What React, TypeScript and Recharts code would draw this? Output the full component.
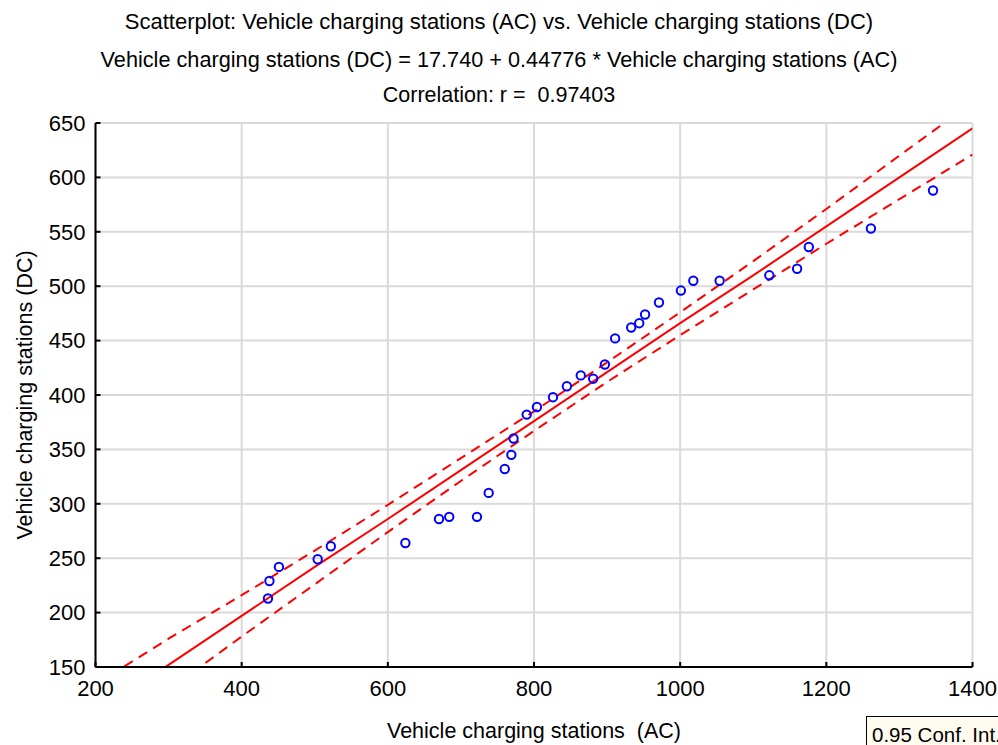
import React from 'react';
import { ComposedChart, Scatter, Line, XAxis, YAxis, CartesianGrid } from 'recharts';

const acStations = [436, 438, 451, 504, 522, 624, 670, 684, 722, 738, 760, 769, 772, 790, 804, 826, 845, 864, 881, 897, 911, 933, 944, 952, 971, 1001, 1018, 1054, 1122, 1160, 1176, 1261, 1346];
const dcStations = [213, 229, 242, 249, 261, 264, 286, 288, 288, 310, 332, 345, 360, 382, 389, 398, 408, 418, 415, 428, 452, 462, 466, 474, 485, 496, 505, 505, 510, 516, 536, 553, 588];

// Fitted line and 0.95 confidence band
const bandAC = [200, 300, 400, 500, 600, 700, 800, 900, 1000, 1100, 1200, 1300, 1400];
const fitDC = [107, 152, 197, 242, 286, 331, 376, 421, 466, 510, 555, 600, 645];
const upperDC = [134, 176, 216, 257, 299, 342, 385, 430, 476, 523, 571, 620, 669];
const lowerDC = [80, 129, 178, 226, 274, 321, 367, 412, 455, 497, 539, 580, 621];

const xTicks = [200, 400, 600, 800, 1000, 1200, 1400];
const yTicks = [150, 200, 250, 300, 350, 400, 450, 500, 550, 600, 650];

const titleLines = [
  'Scatterplot: Vehicle charging stations (AC) vs. Vehicle charging stations (DC)',
  'Vehicle charging stations (DC) = 17.740 + 0.44776 * Vehicle charging stations (AC)',
  'Correlation: r =  0.97403',
];
const xLabel = 'Vehicle charging stations  (AC)';
const yLabel = 'Vehicle charging stations (DC)';
const legendText = '0.95 Conf. Int.';

const points = acStations.map((x, i) => ({ x, y: dcStations[i] }));
const fitData = bandAC.map((x, i) => ({ x, y: fitDC[i] }));
const upperData = bandAC.map((x, i) => ({ x, y: upperDC[i] }));
const lowerData = bandAC.map((x, i) => ({ x, y: lowerDC[i] }));

const FONT = '"Liberation Sans", Arial, sans-serif';
const tickStyle = { fontFamily: FONT, fontSize: 22, fill: '#000' };

const renderCircle = (props: any) => (
  <circle cx={props.cx} cy={props.cy} r={4.2} fill="none" stroke="#0000ff" strokeWidth={2} />
);

export default function App() {
  return (
    <div style={{ position: 'absolute', left: 0, top: 0, width: 998, height: 745, overflow: 'hidden', background: '#fff', fontFamily: FONT }}>
      {titleLines.map((t, i) => (
        <div
          key={i}
          style={{
            position: 'absolute',
            left: 0,
            width: 998,
            top: [22, 60, 95][i],
            transform: 'translateY(-50%)',
            textAlign: 'center',
            fontSize: [22, 21.7, 21.5][i],
            lineHeight: '24px',
            color: '#000',
            whiteSpace: 'pre',
          }}
        >
          {t}
        </div>
      ))}
      <ComposedChart
        width={998}
        height={745}
        margin={{ top: 123, right: 25.5, bottom: 0, left: 0 }}
        style={{ position: 'absolute', left: 0, top: 0 }}
      >
        <CartesianGrid stroke="#dadada" strokeWidth={2} horizontalValues={yTicks} verticalValues={xTicks} />
        <XAxis
          type="number"
          dataKey="x"
          domain={[200, 1400]}
          ticks={xTicks}
          allowDataOverflow
          height={78}
          tickSize={-5}
          tickMargin={18}
          tick={tickStyle}
          axisLine={{ stroke: '#000', strokeWidth: 2 }}
          tickLine={{ stroke: '#000', strokeWidth: 2 }}
        />
        <XAxis
          xAxisId="top"
          orientation="top"
          type="number"
          domain={[200, 1400]}
          ticks={xTicks}
          allowDataOverflow
          height={0}
          tickSize={-5}
          tick={false}
          axisLine={{ stroke: '#000', strokeWidth: 2 }}
          tickLine={{ stroke: '#000', strokeWidth: 2 }}
        />
        <YAxis
          type="number"
          domain={[150, 650]}
          ticks={yTicks}
          allowDataOverflow
          width={95.5}
          tickSize={-5}
          tickMargin={15}
          tick={tickStyle}
          axisLine={{ stroke: '#000', strokeWidth: 2 }}
          tickLine={{ stroke: '#000', strokeWidth: 2 }}
        />
        <YAxis
          yAxisId="right"
          orientation="right"
          type="number"
          domain={[150, 650]}
          ticks={yTicks}
          allowDataOverflow
          width={0}
          tickSize={-5}
          tick={false}
          axisLine={{ stroke: '#000', strokeWidth: 2 }}
          tickLine={{ stroke: '#000', strokeWidth: 2 }}
        />
        <Scatter data={points} dataKey="y" shape={renderCircle} isAnimationActive={false} />
        <Line data={fitData} dataKey="y" type="linear" stroke="#ff0000" strokeWidth={2} dot={false} activeDot={false} isAnimationActive={false} />
        <Line data={upperData} dataKey="y" type="linear" stroke="#ff0000" strokeWidth={2} strokeDasharray="10 7" dot={false} activeDot={false} isAnimationActive={false} />
        <Line data={lowerData} dataKey="y" type="linear" stroke="#ff0000" strokeWidth={2} strokeDasharray="10 7" dot={false} activeDot={false} isAnimationActive={false} />
      </ComposedChart>
      <div
        style={{
          position: 'absolute',
          left: 534,
          top: 731,
          transform: 'translate(-50%, -50%)',
          fontSize: 21.5,
          lineHeight: '24px',
          whiteSpace: 'pre',
          color: '#000',
        }}
      >
        {xLabel}
      </div>
      <div
        style={{
          position: 'absolute',
          left: 25,
          top: 395,
          transform: 'translate(-50%, -50%) rotate(-90deg)',
          fontSize: 21.5,
          lineHeight: '24px',
          whiteSpace: 'pre',
          color: '#000',
        }}
      >
        {yLabel}
      </div>
      <div
        style={{
          position: 'absolute',
          left: 866,
          top: 716,
          width: 160,
          height: 40,
          boxSizing: 'border-box',
          border: '1.5px solid #000',
          background: '#fffbee',
          fontSize: 20.5,
          lineHeight: '36px',
          paddingLeft: 5,
          whiteSpace: 'nowrap',
          color: '#000',
        }}
      >
        {legendText}
      </div>
    </div>
  );
}
